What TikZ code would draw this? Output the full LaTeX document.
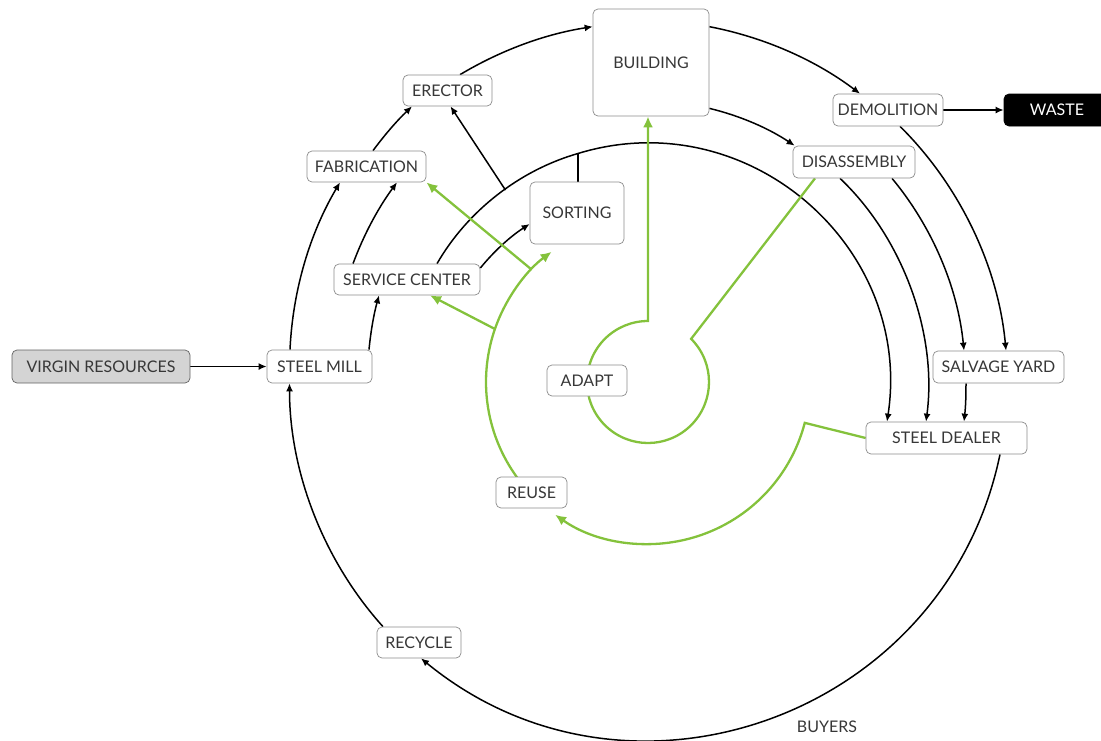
\documentclass[tikz,border=0pt]{standalone}
\usepackage{fontspec}
\setmainfont{Lato}
\usetikzlibrary{arrows.meta,calc,backgrounds}
\definecolor{grn}{RGB}{132,194,60}
\definecolor{txt}{RGB}{55,55,55}
\definecolor{boxgray}{RGB}{140,140,140}
\definecolor{vfill}{RGB}{212,212,212}
\begin{document}
\begin{tikzpicture}[x=1pt,y=1pt,
 box/.style={draw=boxgray, line width=0.7pt, rounded corners=5pt, fill=white, text=txt, inner sep=0pt, font=\fontsize{16}{19}\selectfont},
 blk/.style={line width=1.5pt, -{Latex[length=8pt,width=7pt]}},
 blkline/.style={line width=1.5pt},
 grnl/.style={draw=grn, line width=2.3pt},
 garr/.style={grnl, -{Latex[length=11pt,width=10pt]}},
 arcb/.style={looseness=0.87}
]
\useasboundingbox (0,0) rectangle (1101,-740);
\coordinate (C) at (648,-382);

\node[box, fill=vfill, draw=boxgray!70!black, minimum width=178pt, minimum height=33pt] (virgin) at (101,-366.5) {VIRGIN RESOURCES};
\node[box, minimum width=105pt, minimum height=33pt] (mill) at (319.5,-366.5) {STEEL MILL};
\node[box, minimum width=119pt, minimum height=31pt] (fab) at (366.5,-166.5) {FABRICATION};
\node[box, minimum width=89pt, minimum height=31pt] (erector) at (447.5,-90.5) {ERECTOR};
\node[box, minimum width=116pt, minimum height=107pt] (building) at (651,-62.5) {BUILDING};
\node[box, minimum width=110pt, minimum height=32pt] (demolition) at (888,-110) {DEMOLITION};
\node[box, fill=black, draw=black, text=white, minimum width=106pt, minimum height=32pt] (waste) at (1057,-110) {WASTE};
\node[box, minimum width=122pt, minimum height=32pt] (disassembly) at (854,-162) {DISASSEMBLY};
\node[box, minimum width=94pt, minimum height=62pt] (sorting) at (577,-213) {SORTING};
\node[box, minimum width=146pt, minimum height=31pt] (service) at (407,-279.5) {SERVICE CENTER};
\node[box, minimum width=80pt, minimum height=31pt] (adapt) at (587,-380.5) {ADAPT};
\node[box, minimum width=131pt, minimum height=32pt] (salvage) at (998.5,-367) {SALVAGE YARD};
\node[box, minimum width=161pt, minimum height=32pt] (dealer) at (946.5,-438) {STEEL DEALER};
\node[box, minimum width=71pt, minimum height=31pt] (reuse) at (531.5,-492.5) {REUSE};
\node[box, minimum width=84pt, minimum height=31pt] (recycle) at (419,-642.5) {RECYCLE};
\node[text=txt, font=\fontsize{16}{19}\selectfont, inner sep=0pt] (buyers) at (827,-727) {BUYERS};

\coordinate (j1) at ($(C)+(107:239)$);
\coordinate (j2) at ($(C)+(126.6:239)$);
\coordinate (a1) at ($(C)+(45:61)$);
\coordinate (g0) at ($(C)+(-14.6:162)$);
\coordinate (g1) at ($(C)+(217:162)$);
\coordinate (b1) at ($(C)+(160.9:162)$);
\coordinate (b2) at ($(C)+(136:162)$);

\begin{scope}[on background layer]
% black flows
\draw[blk] (virgin) -- (mill);
\draw[blk] ([xshift=-29.5pt]mill.north) to[bend left=14, arcb] ([xshift=-26.5pt]fab.south);
\draw[blk] ([xshift=6.5pt]fab.north) to[bend left=5, arcb] ([xshift=-35.5pt]erector.south);
\draw[blk] ([xshift=12.5pt]erector.north) to[bend left=11, arcb] ([yshift=-18pt]building.north west);
\draw[blk] ([yshift=-18pt]building.north east) to[bend left=13, arcb] ([xshift=-28pt]demolition.north);
\draw[blk] (demolition) -- (waste);
\draw[blk] ([xshift=12pt]demolition.south) to[bend left=20, arcb] ([xshift=7.5pt]salvage.north);
\draw[blk] ([yshift=8pt]building.south east) to[bend left=10, arcb] ([xshift=2pt]disassembly.north west);
\draw[blk] ([xshift=-14pt]disassembly.south) to[bend left=27, arcb] ([xshift=-20.5pt]dealer.north);
\draw[blk] ([xshift=38pt]disassembly.south) to[bend left=17, arcb] ([xshift=-34.5pt]salvage.north);
\draw[blk] ([xshift=-32.5pt]salvage.south) to[bend left=3] ([xshift=17.5pt]dealer.north);
\draw[blk] ([xshift=30pt]service.north) to[bend left=22, arcb] (j1) to[out=17,in=81.4,looseness=1.11] ([xshift=-59.5pt]dealer.north);
\draw[blkline] (j1) -- (j1 |- sorting.north);
\draw[blk] (j2) -- ([xshift=3pt]erector.south);
\draw[blk] ([yshift=11.5pt]service.east) to[bend left=9, arcb] ([yshift=-11pt]sorting.west);
\draw[blk] ([xshift=49.5pt]mill.north) to[bend left=5, arcb] ([xshift=-28pt]service.south);
\draw[blk] ([xshift=-54pt]service.north) to[bend left=8, arcb] ([xshift=30.5pt]fab.south);
\draw[blk] ([xshift=53.5pt]dealer.south) to[out=-101.7,in=-39.4,looseness=1.12] ([xshift=2pt]recycle.south);
\draw[blk] ([xshift=-36pt]recycle.north) to[bend left=21, arcb] ([xshift=-30pt]mill.south);
% green flows
\draw[garr] ([xshift=-39pt]disassembly.south) -- (a1) arc[start angle=45, end angle=-270, radius=61] -- ([xshift=-3pt]building.south);
\draw[garr] (dealer.west) -- (g0) arc[start angle=-14.6, end angle=-125, radius=162];
\draw[garr] (g1) arc[start angle=217, end angle=126.5, radius=162];
\draw[garr] (b1) -- ([xshift=23pt]service.south);
\draw[garr] (b2) -- (fab.south east);
\end{scope}
\end{tikzpicture}
\end{document}
